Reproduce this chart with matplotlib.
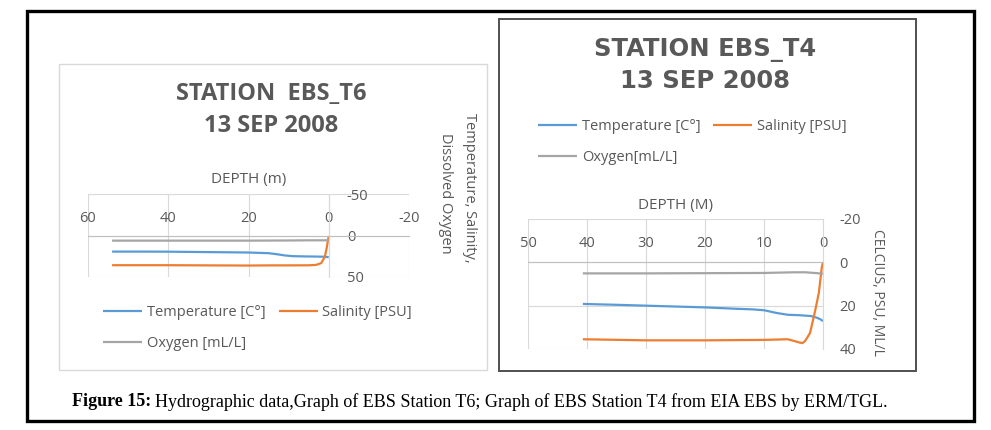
import matplotlib
matplotlib.use("Agg")
import matplotlib.pyplot as plt
from matplotlib.patches import Rectangle

# ---------------- data ----------------
# Station EBS_T6
t6_temp_depth = [54, 45, 40, 30, 20, 15, 13, 11, 9, 6, 3, 1, 0]
t6_temp = [19.4, 19.4, 19.5, 20.0, 20.5, 21.3, 22.5, 24.0, 24.9, 25.2, 25.4, 25.6, 26.2]
t6_sal_depth = [54, 40, 30, 20, 15, 10, 5, 3.2, 1.9, 1.0, 0.5, 0.0]
t6_sal = [35.8, 35.8, 36.0, 36.2, 36.0, 36.0, 35.9, 35.5, 33.3, 26.0, 14.7, 0.5]
t6_oxy_depth = [54, 40, 20, 10, 5, 0]
t6_oxy = [6.2, 6.2, 6.2, 6.0, 5.8, 5.8]

# Station EBS_T4
t4_temp_depth = [40.7, 35, 30, 25, 20, 15, 12, 10, 8, 6, 4, 2, 1, 0.5, 0]
t4_temp = [19.2, 19.6, 20.0, 20.4, 20.8, 21.4, 21.7, 22.1, 23.3, 24.2, 24.4, 24.8, 25.6, 26.2, 27.1]
t4_sal_depth = [40.7, 30, 20, 10, 6, 5, 4, 3.5, 3, 2.2, 1.4, 1.0, 0.7, 0.2, 0]
t4_sal = [35.5, 36.0, 36.0, 35.8, 35.5, 36.2, 37.0, 37.3, 36.2, 32.6, 23.2, 18.0, 14.0, 2.2, 0.0]
t4_oxy_depth = [40.7, 30, 20, 10, 5, 3, 1, 0]
t4_oxy = [5.1, 5.1, 5.0, 4.9, 4.6, 4.6, 5.0, 5.3]

t6_xticks = [60, 40, 20, 0, -20]
t6_yticks = [-50, 0, 50]
t4_xticks = [50, 40, 30, 20, 10, 0]
t4_yticks = [-20, 0, 20, 40]

series_labels_t6 = ["Temperature [C°]", "Salinity [PSU]", "Oxygen [mL/L]"]
series_labels_t4 = ["Temperature [C°]", "Salinity [PSU]", "Oxygen[mL/L]"]

# ---------------- style ----------------
W, H = 991, 430
TXT = "#595959"
GRID = "#d9d9d9"
C_T, C_S, C_O = "#5b9bd5", "#ed7d31", "#a5a5a5"
FONT = "Open Sans"

plt.rcParams["font.family"] = [FONT, "DejaVu Sans"]
plt.rcParams["axes.unicode_minus"] = False

fig = plt.figure(figsize=(W / 100, H / 100), dpi=100)


def fx(x):
    return x / W


def fy(y):
    return 1 - y / H


def box(x0, y0, x1, y1, **kw):
    fig.patches.append(Rectangle((fx(x0), fy(y1)), fx(x1) - fx(x0), fy(y0) - fy(y1),
                                 transform=fig.transFigure, fill=False, **kw))


# borders
box(26.5, 10.5, 973.5, 420.5, edgecolor="black", linewidth=2.4)
box(58.5, 63.5, 487, 370, edgecolor=GRID, linewidth=1.0)
box(499, 19, 916, 371, edgecolor="#505050", linewidth=1.4)


def make_axes(rect_px, xticks, yticks, xpad, ypad, fs):
    x0, y0, x1, y1 = rect_px
    ax = fig.add_axes([fx(x0), fy(y1), fx(x1) - fx(x0), fy(y0) - fy(y1)])
    ax.set_xlim(max(xticks), min(xticks))
    ax.set_ylim(max(yticks), min(yticks))
    ax.set_xticks(xticks)
    ax.set_yticks(yticks)
    ax.grid(True, color=GRID, linewidth=0.8)
    ax.set_axisbelow(True)
    for s in ["left", "bottom"]:
        ax.spines[s].set_visible(False)
    ax.spines["top"].set_position(("data", 0))
    ax.spines["right"].set_position(("data", 0))
    ax.spines["top"].set_color("#bfbfbf")
    ax.spines["right"].set_color(GRID)
    ax.spines["top"].set_linewidth(0.8)
    ax.spines["right"].set_linewidth(0.8)
    ax.xaxis.tick_top()
    ax.yaxis.tick_right()
    ax.tick_params(axis="x", length=0, pad=xpad, labelsize=fs, labelcolor=TXT)
    ax.tick_params(axis="y", length=0, pad=ypad, labelsize=fs, labelcolor=TXT)
    ax.patch.set_alpha(0)
    return ax


def plot_series(ax, d):
    lt, = ax.plot(d[0], d[1], color=C_T, linewidth=1.6, solid_capstyle="butt")
    ls, = ax.plot(d[2], d[3], color=C_S, linewidth=1.6, solid_capstyle="butt")
    lo, = ax.plot(d[4], d[5], color=C_O, linewidth=1.6, solid_capstyle="butt")
    return lt, ls, lo


# ---------- left chart: T6 ----------
ax1 = make_axes((88, 194, 409, 277), t6_xticks, t6_yticks, 7, 13, 10.5)
h1 = plot_series(ax1, (t6_temp_depth, t6_temp, t6_sal_depth, t6_sal, t6_oxy_depth, t6_oxy))
fig.text(fx(271), fy(94), "STATION  EBS_T6", ha="center", va="center",
         fontsize=17, fontweight="bold", color=TXT)
fig.text(fx(271), fy(126), "13 SEP 2008", ha="center", va="center",
         fontsize=17, fontweight="bold", color=TXT)
fig.text(fx(249), fy(179), "DEPTH (m)", ha="center", va="center", fontsize=11, color=TXT)
fig.text(fx(469), fy(188), "Temperature, Salinity,", ha="center", va="center",
         rotation=270, fontsize=10.5, color=TXT)
fig.text(fx(446), fy(193), "Dissolved Oxygen", ha="center", va="center",
         rotation=270, fontsize=10.5, color=TXT)
leg1 = fig.legend([h1[0], h1[2], h1[1]],
                  [series_labels_t6[0], series_labels_t6[2], series_labels_t6[1]],
                  loc="upper left", bbox_to_anchor=(fx(103), fy(305)), ncol=2,
                  frameon=False, fontsize=10.5, labelcolor=TXT, borderpad=0,
                  borderaxespad=0, handlelength=2.7, handletextpad=0.3,
                  columnspacing=0.9, labelspacing=1.1)

# ---------- right chart: T4 ----------
ax2 = make_axes((528, 219, 823, 349), t4_xticks, t4_yticks, 8, 12, 10.5)
h2 = plot_series(ax2, (t4_temp_depth, t4_temp, t4_sal_depth, t4_sal, t4_oxy_depth, t4_oxy))
fig.text(fx(705), fy(50), "STATION EBS_T4", ha="center", va="center",
         fontsize=17.5, fontweight="bold", color=TXT, family="DejaVu Sans")
fig.text(fx(705), fy(81), "13 SEP 2008", ha="center", va="center",
         fontsize=17.5, fontweight="bold", color=TXT, family="DejaVu Sans")
fig.text(fx(676), fy(206), "DEPTH (M)", ha="center", va="center", fontsize=11, color=TXT)
fig.text(fx(878), fy(292), "CELCIUS, PSU, ML/L", ha="center", va="center",
         rotation=270, fontsize=10, color=TXT)
leg2 = fig.legend([h2[0], h2[2], h2[1]],
                  [series_labels_t4[0], series_labels_t4[2], series_labels_t4[1]],
                  loc="upper left", bbox_to_anchor=(fx(538), fy(119)), ncol=2,
                  frameon=False, fontsize=10.5, labelcolor=TXT, borderpad=0,
                  borderaxespad=0, handlelength=2.7, handletextpad=0.3,
                  columnspacing=0.85, labelspacing=1.1)

# ---------- caption ----------
cap_font = ["Liberation Serif", "DejaVu Serif"]
t_bold = fig.text(fx(72), fy(402), "Figure 15:", ha="left", va="center", fontsize=13,
                  fontweight="bold", color="black", family=cap_font)
fig.canvas.draw()
bb = t_bold.get_window_extent(fig.canvas.get_renderer())
fig.text(bb.x1 / W + fx(4), fy(402),
         "Hydrographic data,Graph of EBS Station T6; Graph of EBS Station T4 from EIA EBS by ERM/TGL.",
         ha="left", va="center", fontsize=13, color="black", family=cap_font)

fig.savefig("out.png", dpi=100)
